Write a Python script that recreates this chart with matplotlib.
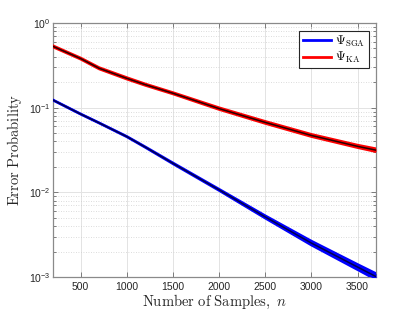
import matplotlib
matplotlib.use("Agg")
import matplotlib.pyplot as plt
import numpy as np
from matplotlib.ticker import LogLocator, NullFormatter, FixedLocator

# ---- data ----
n_samples = [200, 500, 700, 1000, 1200, 1500, 2000, 2500, 3000, 3500, 3700]

sga_lo = [0.1225, 0.0836, 0.0657, 0.0452, 0.0339, 0.0217, 0.0105, 0.00495, 0.00238, 0.00122, 0.00093]
sga_hi = [0.1235, 0.0844, 0.0663, 0.0458, 0.0345, 0.0223, 0.0109, 0.0053, 0.00266, 0.00141, 0.00110]

ka_lo = [0.52, 0.373, 0.286, 0.217, 0.183, 0.145, 0.095, 0.065, 0.0455, 0.0337, 0.0302]
ka_hi = [0.54, 0.387, 0.298, 0.227, 0.191, 0.151, 0.100, 0.069, 0.0485, 0.0362, 0.0328]

x_ticks = [500, 1000, 1500, 2000, 2500, 3000, 3500]
legend_labels = [r'$\Psi_{\rm SGA}$', r'$\Psi_{\rm KA}$']

# ---- figure ----
fig = plt.figure(figsize=(4.15, 3.12), dpi=100)
ax = fig.add_axes([53/415, 35/312, 323/415, 254/312])

x = np.array(n_samples)
series = [(np.array(sga_lo), np.array(sga_hi), (0, 0, 1), 0.7),
          (np.array(ka_lo), np.array(ka_hi), (1, 0, 0), 0.85)]
for lo, hi, col, a in series:
    ax.fill_between(x, lo, hi, color=col, lw=0, zorder=3)
    ax.plot(x, lo, color=col, lw=1.8, zorder=3, solid_joinstyle='round')
    ax.plot(x, hi, color=col, lw=1.8, zorder=3, solid_joinstyle='round')
    ax.plot(x, np.sqrt(lo * hi), color='black', lw=1.1, alpha=a, zorder=4)

ax.set_yscale('log')
ax.set_xlim(200, 3700)
ax.set_ylim(1e-3, 1)
ax.xaxis.set_major_locator(FixedLocator(x_ticks))
ax.yaxis.set_major_locator(LogLocator(base=10, numticks=10))
ax.yaxis.set_minor_locator(LogLocator(base=10, subs=np.arange(2, 10), numticks=10))
ax.yaxis.set_minor_formatter(NullFormatter())

ax.grid(True, which='major', color='#e3e3e3', lw=0.7, ls='-', zorder=0)
ax.grid(True, which='minor', axis='y', color='#d0d0d0', lw=0.6, ls=(0, (1, 2)), zorder=0)
ax.set_axisbelow(True)

for sp in ax.spines.values():
    sp.set_color('#8a8a8a')
    sp.set_linewidth(0.9)
ax.tick_params(which='both', direction='in', top=True, right=True,
               color='#6a6a6a', labelsize=7.5, labelcolor='#262626', width=0.6)
ax.tick_params(which='major', length=3.5)
ax.tick_params(which='minor', length=2)
ax.tick_params(axis='y', pad=2)
for lab in ax.get_xticklabels() + ax.get_yticklabels():
    lab.set_fontfamily('Liberation Sans')

ax.set_xlabel(r'$\mathrm{Number\ of\ Samples,}\ n$', fontsize=10.5,
              math_fontfamily='cm', color='#262626', labelpad=1)
ax.set_ylabel(r'$\mathrm{Error\ Probability}$', fontsize=10.5,
              math_fontfamily='cm', color='#262626', labelpad=3)

h1, = ax.plot([], [], color=(0, 0, 1), lw=2)
h2, = ax.plot([], [], color=(1, 0, 0), lw=2)
leg = ax.legend([h1, h2], legend_labels, loc='upper right', fontsize=9,
                fancybox=False, framealpha=1, edgecolor='#262626',
                borderaxespad=0.6, handlelength=2.3, handletextpad=0.3,
                labelspacing=0.1, borderpad=0.25)
leg.get_frame().set_linewidth(0.8)
for t in leg.get_texts():
    t.set_math_fontfamily('cm')

fig.savefig('out.png', dpi=100)
